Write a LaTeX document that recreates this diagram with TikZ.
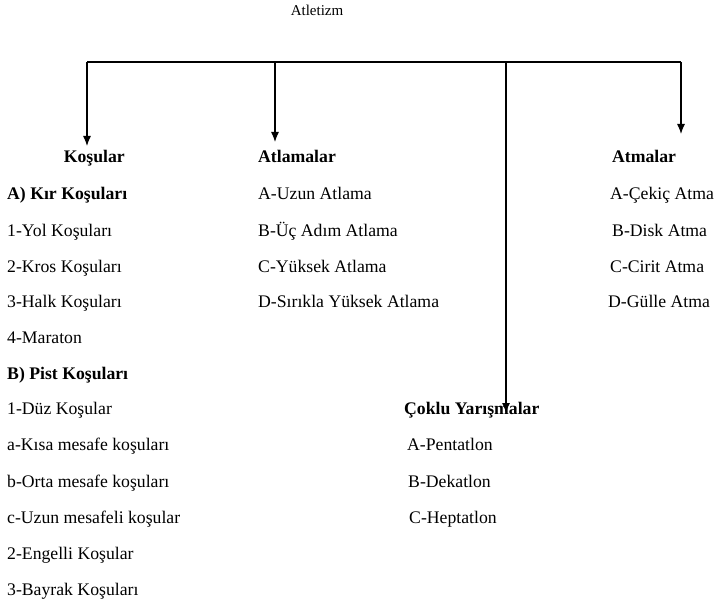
\documentclass[tikz,border=0pt]{standalone}
\usepackage{fontspec}
\setmainfont{Liberation Serif}
\usetikzlibrary{arrows.meta}

\newcommand{\itemsize}{\fontsize{17.7bp}{21bp}\selectfont}

\tikzset{
  txt/.style={anchor=mid west, inner sep=0pt, font=\itemsize},
  head/.style={anchor=mid west, inner sep=0pt, font=\itemsize\bfseries},
  arr/.style={-{Latex[length=10bp,width=8bp]}, line width=1.2bp}
}

\begin{document}
\begin{tikzpicture}[x=1bp, y=-1bp]
\useasboundingbox (0,0) rectangle (720,607);

\node (root) [inner sep=0pt, font=\fontsize{15bp}{18bp}\selectfont] at (317,10) {Atletizm};

% bar and arrows
\coordinate (b1) at (87,62);
\coordinate (b2) at (275,62);
\coordinate (b3) at (506,62);
\coordinate (b4) at (681,62);
\coordinate (t1) at (87,146);
\coordinate (t2) at (275,142);
\coordinate (t3) at (506,413);
\coordinate (t4) at (681,134);
\draw [line width=1.2bp] (b1) -- (b4);
\draw [arr] (b1) -- (t1);
\draw [arr] (b2) -- (t2);
\draw [arr] (b3) -- (t3);
\draw [arr] (b4) -- (t4);

% Koşular
\node (kos) [head, anchor=mid east] at (125,160) {Koşular};
\node (kir) [head] at (7,197) {A) Kır Koşuları};
\node (k1) [txt] at (7,234) {1-Yol Koşuları};
\node (k2) [txt] at (7,270) {2-Kros Koşuları};
\node (k3) [txt] at (7,305) {3-Halk Koşuları};
\node (k4) [txt] at (7,341) {4-Maraton};
\node (pist) [head] at (7,377) {B) Pist Koşuları};
\node (p1) [txt] at (7,412) {1-Düz Koşular};
\node (pa) [txt] at (7,448) {a-Kısa mesafe koşuları};
\node (pb) [txt] at (7,485) {b-Orta mesafe koşuları};
\node (pc) [txt] at (7,521) {c-Uzun mesafeli koşular};
\node (p2) [txt] at (7,557) {2-Engelli Koşular};
\node (p3) [txt] at (7,593) {3-Bayrak Koşuları};

% Atlamalar
\node (atl) [head] at (258,160) {Atlamalar};
\node (a1) [txt] at (258,197) {A-Uzun Atlama};
\node (a2) [txt] at (258,234) {B-Üç Adım Atlama};
\node (a3) [txt] at (258,270) {C-Yüksek Atlama};
\node (a4) [txt] at (258,305) {D-Sırıkla Yüksek Atlama};

% Atmalar
\node (atm) [head] at (612,160) {Atmalar};
\node (m1) [txt] at (610,197) {A-Çekiç Atma};
\node (m2) [txt] at (612,234) {B-Disk Atma};
\node (m3) [txt] at (610,270) {C-Cirit Atma};
\node (m4) [txt] at (608,305) {D-Gülle Atma};

% Çoklu Yarışmalar
\node (cok) [head] at (404,412) {Çoklu Yarışmalar};
\node (c1) [txt] at (407,448) {A-Pentatlon};
\node (c2) [txt] at (408,485) {B-Dekatlon};
\node (c3) [txt] at (409,521) {C-Heptatlon};

\end{tikzpicture}
\end{document}
